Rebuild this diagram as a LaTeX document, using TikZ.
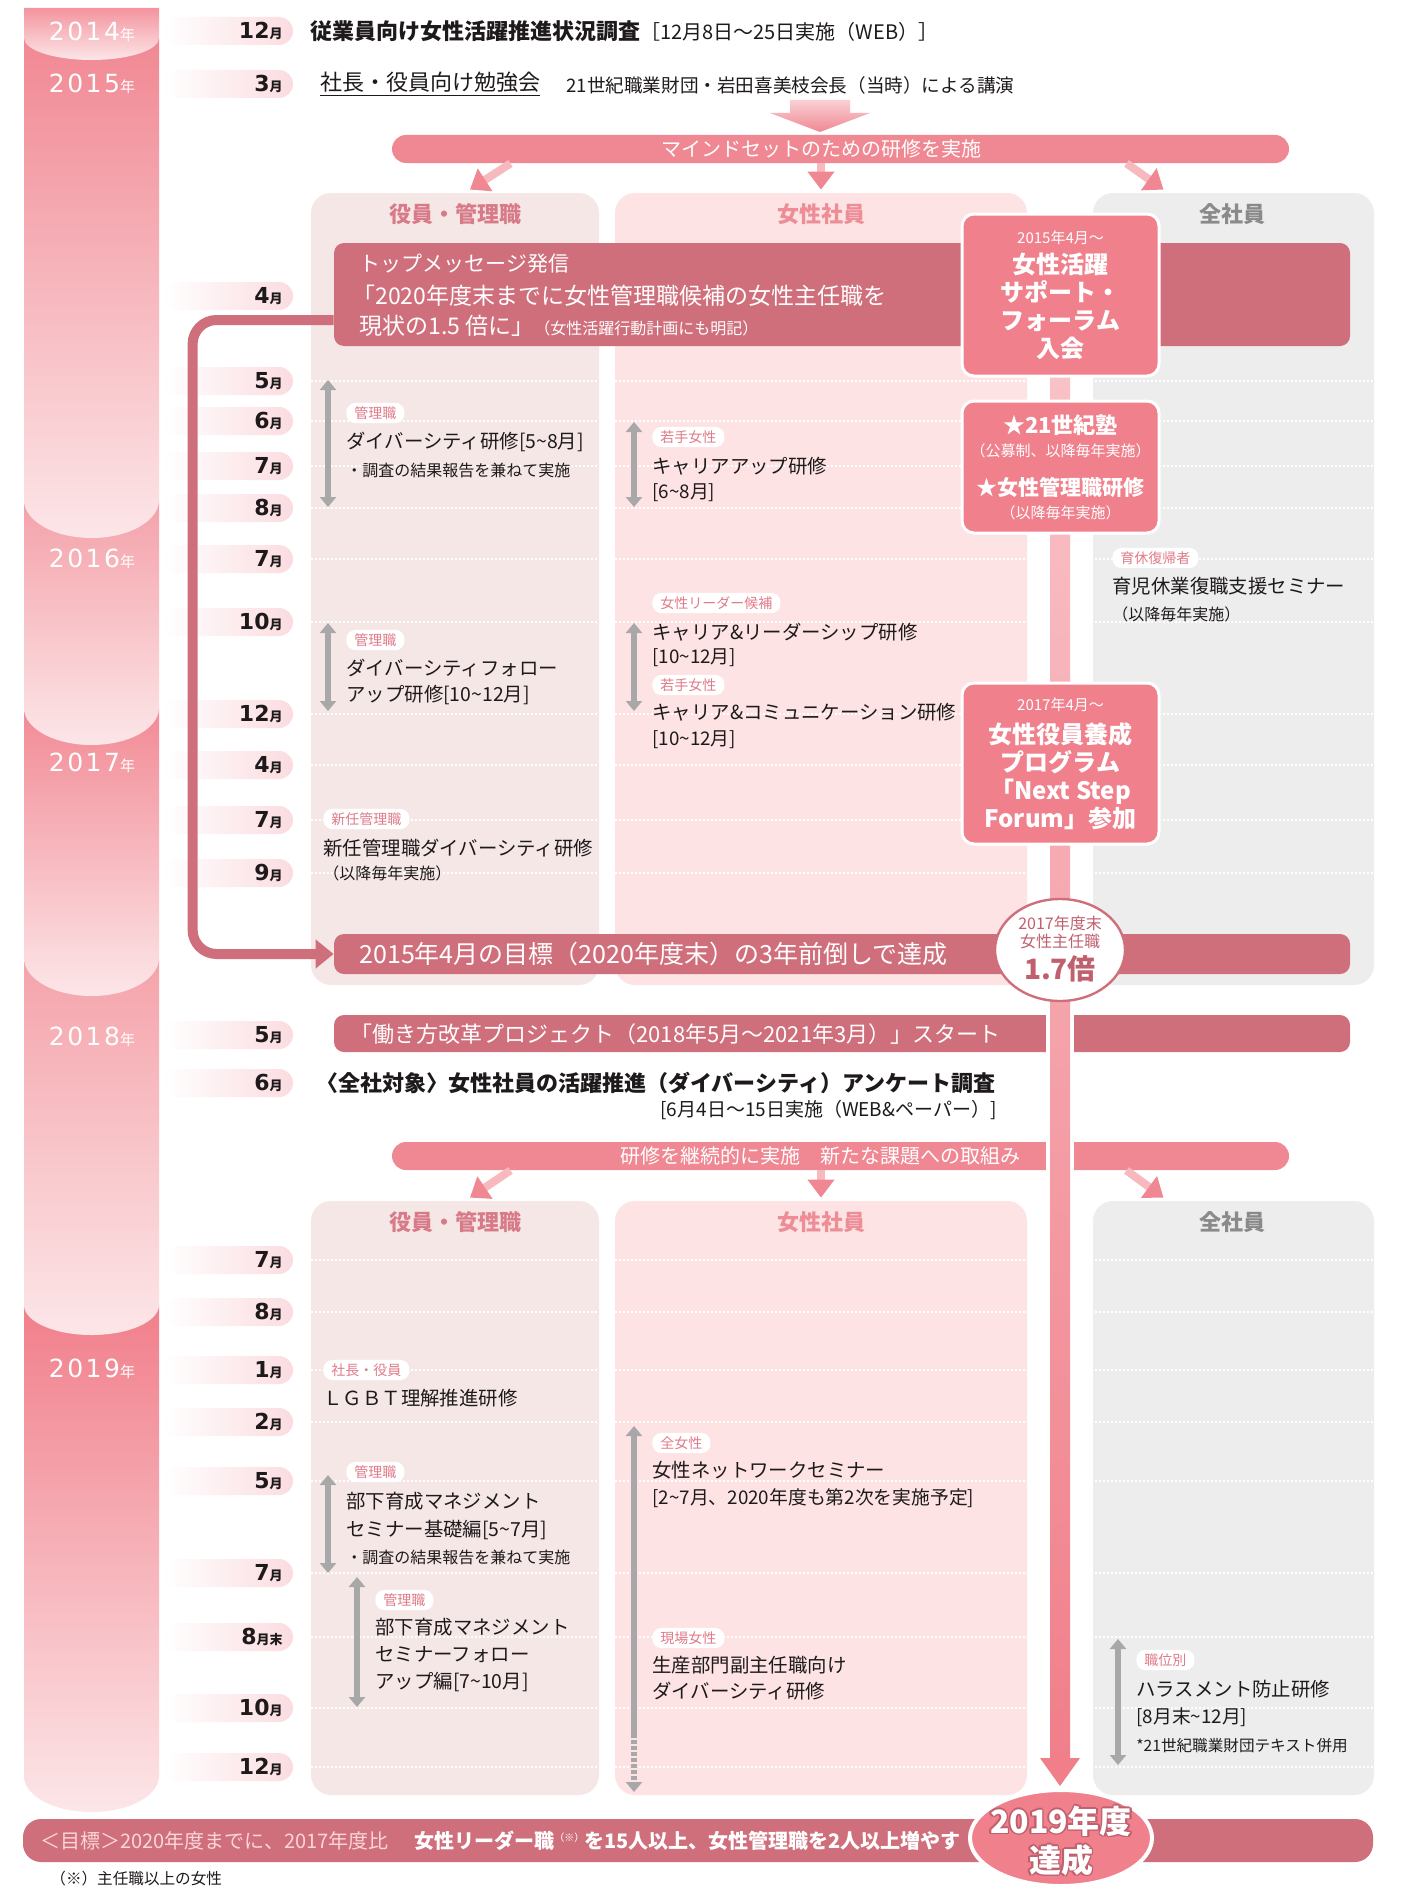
\documentclass[tikz,border=0pt]{standalone}
\usepackage{fontspec}
\setmainfont{Noto Sans CJK JP}
\newfontfamily\dvs{DejaVu Sans}
\newfontfamily\yfont{DejaVu Sans}[LetterSpace=10]
\usetikzlibrary{arrows.meta,calc,shapes.geometric}
\definecolor{ink}{HTML}{1E1A1B}
\definecolor{rose}{HTML}{D06F7C}
\definecolor{rosedark}{HTML}{C0606E}
\definecolor{pinkbox}{HTML}{F0808C}
\definecolor{bannerpink}{HTML}{F08893}
\definecolor{arrlight}{HTML}{FAD0D4}
\definecolor{ylight}{HTML}{FCE6E8}
\definecolor{y14}{HTML}{F3949E}
\definecolor{y15}{HTML}{F18893}
\definecolor{y16}{HTML}{F4A1A9}
\definecolor{y17}{HTML}{F28A95}
\definecolor{y18}{HTML}{F4A3AA}
\definecolor{y19}{HTML}{F17F8B}
\definecolor{pillpink}{HTML}{FBDCE0}
\definecolor{panelA}{HTML}{F6E7E7}
\definecolor{panelB}{HTML}{FDE3E3}
\definecolor{panelC}{HTML}{EDEDED}
\definecolor{hdrA}{HTML}{D77B88}
\definecolor{hdrB}{HTML}{EC8D97}
\definecolor{hdrC}{HTML}{8A8A8A}
\definecolor{grayarr}{HTML}{A8A8A8}
\definecolor{tagtext}{HTML}{E07B89}
\definecolor{barlight}{HTML}{F9C2C7}
\definecolor{barstrong}{HTML}{F07F8A}
\definecolor{shaftpink}{HTML}{F7B8BE}
\definecolor{goaltext}{HTML}{F9D6DA}

\newcommand{\tld}{\char"7E\relax}
\newcommand{\yseg}[4]{%
  \shade[top color=#4, bottom color=ylight] (24,#1) -- (24,#2) .. controls (24,#2+0.552*#3) and (54.2,#2+#3) .. (91.5,#2+#3) .. controls (128.8,#2+#3) and (159,#2+0.552*#3) .. (159,#2) -- (159,#1) -- cycle;}
\newcommand{\ylab}[3]{\node[inner sep=0pt,text=white] (#3) at (92,#1) {{\yfont\fontsize{12.5}{14}\selectfont #2}{\fontsize{7.5}{9}\selectfont 年}};}
\newcommand{\mrow}[4]{%
  \shade[left color=white,right color=pillpink,rounded corners=7pt] (163,#1-14) rectangle (293,#1+14);
  \node[anchor=east,inner sep=0pt,text=ink] (#4) at (283,#1) {{\dvs\bfseries\fontsize{11}{12}\selectfont #2}{\bfseries\fontsize{6.5}{8}\selectfont #3}};}
\newcommand{\dline}[1]{\draw[dotl] (311,#1) -- (1374,#1);}

\begin{document}
\begin{tikzpicture}[x=0.5pt,y=-0.5pt,
  txt/.style={anchor=west,inner sep=0pt,text=ink,font=\fontsize{9.7}{11}\selectfont},
  sub/.style={anchor=west,inner sep=0pt,text=ink,font=\fontsize{9.4}{11}\selectfont},
  note/.style={anchor=west,inner sep=0pt,text=ink,font=\fontsize{8}{9.5}\selectfont},
  tag/.style={anchor=west,fill=white,rounded corners=4.5pt,inner xsep=4pt,inner ysep=1.8pt,text=tagtext,font=\fontsize{7}{8}\selectfont},
  panel/.style={inner sep=0pt,rounded corners=10pt},
  hdr/.style={inner sep=0pt,font=\bfseries\fontsize{11}{13}\selectfont},
  banner/.style={inner sep=0pt,fill=rose,rounded corners=5pt},
  pbanner/.style={inner sep=0pt,fill=bannerpink,rounded corners=7pt},
  fbox/.style={inner sep=0pt,fill=pinkbox,draw=white,line width=1.5pt,rounded corners=6pt,text=white,align=center},
  garr/.style={draw=grayarr,line width=3pt,{Triangle[width=8pt,length=5pt]}-{Triangle[width=8pt,length=5pt]}},
  dotl/.style={draw=white,line width=0.9pt,dash pattern=on 1pt off 1pt},
  minarr/.style={draw=shaftpink,line width=4pt,-{Triangle[width=13pt,length=9pt,color=bannerpink]}},
  conn/.style={draw=rose,line width=5pt,rounded corners=12pt,-{Triangle[width=14pt,length=9pt]}},
  wtxt/.style={anchor=west,inner sep=0pt,text=white},
  big/.style={inner sep=0pt,font=\bfseries\fontsize{16}{18}\selectfont}]
\useasboundingbox (0,0) rectangle (1405,1889);
\fill[white] (0,0) rectangle (1405,1889);

% ---------- year bar ----------
\yseg{1305}{1776}{36}{y19}
\yseg{958}{1305}{30}{y18}
\yseg{708}{958}{38}{y17}
\yseg{500}{708}{37}{y16}
\yseg{38}{500}{38}{y15}
\yseg{8}{38}{22}{y14}
\ylab{32}{2014}{yra}
\ylab{84}{2015}{yrb}
\ylab{559}{2016}{yrc}
\ylab{763}{2017}{yrd}
\ylab{1037}{2018}{yre}
\ylab{1369}{2019}{yrf}

% ---------- months ----------
\mrow{31}{12}{月}{m1}
\mrow{84}{3}{月}{m2}
\mrow{296}{4}{月}{m3}
\mrow{381}{5}{月}{m4}
\mrow{421}{6}{月}{m5}
\mrow{466}{7}{月}{m6}
\mrow{508}{8}{月}{m7}
\mrow{559}{7}{月}{m8}
\mrow{622}{10}{月}{m9}
\mrow{714}{12}{月}{m10}
\mrow{765}{4}{月}{m11}
\mrow{820}{7}{月}{m12}
\mrow{873}{9}{月}{m13}
\mrow{1035}{5}{月}{m14}
\mrow{1083}{6}{月}{m15}
\mrow{1260}{7}{月}{m16}
\mrow{1312}{8}{月}{m17}
\mrow{1370}{1}{月}{m18}
\mrow{1422}{2}{月}{m19}
\mrow{1481}{5}{月}{m20}
\mrow{1573}{7}{月}{m21}
\mrow{1637}{8}{月末}{m22}
\mrow{1708}{10}{月}{m23}
\mrow{1767}{12}{月}{m24}

% ---------- panels ----------
\node[panel,fill=panelA,minimum width=144pt,minimum height=396pt] (pA1) at (455,589) {};
\node[panel,fill=panelB,minimum width=206pt,minimum height=396pt] (pB1) at (821,589) {};
\node[panel,fill=panelC,minimum width=140.5pt,minimum height=396pt] (pC1) at (1233.5,589) {};
\node[panel,fill=panelA,minimum width=144pt,minimum height=297pt] (pA2) at (455,1498) {};
\node[panel,fill=panelB,minimum width=206pt,minimum height=297pt] (pB2) at (821,1498) {};
\node[panel,fill=panelC,minimum width=140.5pt,minimum height=297pt] (pC2) at (1233.5,1498) {};
\node[hdr,text=hdrA] (hA1) at (455,214) {役員・管理職};
\node[hdr,text=hdrB] (hB1) at (821,214) {女性社員};
\node[hdr,text=hdrC] (hC1) at (1232,214) {全社員};
\node[hdr,text=hdrA] (hA2) at (455,1222) {役員・管理職};
\node[hdr,text=hdrB] (hB2) at (821,1222) {女性社員};
\node[hdr,text=hdrC] (hC2) at (1232,1222) {全社員};

\foreach \yy in {381,421,466,508,559,622,714,765,820,873,1260,1312,1370,1422,1481,1573,1637,1708,1767} {\dline{\yy}}

% ---------- top rows ----------
\node[txt] (t1) at (310,31) {{\bfseries\fontsize{11}{13}\selectfont 従業員向け女性活躍推進状況調査}{\fontsize{10}{12}\selectfont ［12月8日～25日実施（WEB）］}};
\node[txt,font=\fontsize{11}{13}\selectfont] (t2) at (320,84) {\underline{社長・役員向け勉強会}};
\node[txt,font=\fontsize{9.3}{11}\selectfont] (t3) at (566,85) {21世紀職業財団・岩田喜美枝会長（当時）による講演};

\shade[top color=arrlight,bottom color=bannerpink] (790,100) -- (850,100) -- (850,113) -- (870,113) -- (820,132) -- (770,113) -- (790,113) -- cycle;

\node[pbanner,minimum width=448.5pt,minimum height=14pt] (mind) at (840.5,149) {};
\node[inner sep=0pt,text=white,font=\fontsize{10}{12}\selectfont] (mindt) at (821,149) {マインドセットのための研修を実施};
\draw[minarr] ([xshift=-165pt]mind.south) -- ([xshift=7.5pt,yshift=1.5pt]pA1.north);
\draw[minarr] (mind.south -| pB1.north) -- ([yshift=1.5pt]pB1.north);
\draw[minarr] ([xshift=143pt]mind.south) -- ([xshift=-35pt,yshift=1.5pt]pC1.north);

% ---------- banners ----------
\node[banner,minimum width=508pt,minimum height=51.5pt] (topmsg) at (842,294.5) {};
\node[wtxt,font=\fontsize{10.5}{12}\selectfont] (tm1) at (359,264) {トップメッセージ発信};
\node[wtxt,font=\fontsize{11.5}{13}\selectfont] (tm2) at (352,296) {「2020年度末までに女性管理職候補の女性主任職を};
\node[wtxt,font=\fontsize{11.5}{13}\selectfont] (tm3) at (359,326) {現状の1.5 倍に」{\fontsize{8}{9}\selectfont（女性活躍行動計画にも明記）}};

\node[banner,minimum width=508pt,minimum height=20pt] (goal15) at (842,954) {};
\node[wtxt,font=\fontsize{12.5}{14}\selectfont] (g15t) at (359,954) {2015年4月の目標（2020年度末）の3年前倒しで達成};

\node[banner,minimum width=508pt,minimum height=18.5pt] (work18) at (842,1033.5) {};
\node[wtxt,font=\fontsize{11}{13}\selectfont] (w18t) at (350,1034) {「働き方改革プロジェクト（2018年5月～2021年3月）」スタート};

\node[txt,font=\bfseries\fontsize{11}{13}\selectfont] (sv1) at (316,1083) {〈全社対象〉女性社員の活躍推進（ダイバーシティ）アンケート調査};
\node[anchor=east,inner sep=0pt,text=ink,font=\fontsize{9.5}{11}\selectfont] (sv2) at (997,1110) {[6月4日～15日実施（WEB\&ペーパー）]};

\node[pbanner,minimum width=448.5pt,minimum height=14pt] (cont) at (840.5,1156) {};
\node[inner sep=0pt,text=white,font=\fontsize{10}{12}\selectfont] (contt) at (820,1156) {研修を継続的に実施　新たな課題への取組み};
\draw[minarr] ([xshift=-165pt]cont.south) -- ([xshift=7.5pt,yshift=1.5pt]pA2.north);
\draw[minarr] (cont.south -| pB2.north) -- ([yshift=1.5pt]pB2.north);
\draw[minarr] ([xshift=143pt]cont.south) -- ([xshift=-35pt,yshift=1.5pt]pC2.north);

% ---------- L connector ----------
\draw[conn] ($(topmsg.west)+(0,25.5)$) -| ($(goal15.west)+(-141,0)$) -- (goal15.west);

% ---------- pink timeline bar ----------
\fill[white] (1046,376) rectangle (1074,1758);
\shade[top color=barlight,bottom color=barstrong] (1050,376) rectangle (1070,1760);
\fill[barstrong] (1040,1758) -- (1080,1758) -- (1060,1786) -- cycle;

% ---------- forum boxes ----------
\node[fbox,minimum width=98.5pt,minimum height=81pt,font=\bfseries\fontsize{12}{14}\selectfont] (forum1) at (1060.5,295) {{\mdseries\fontsize{7.5}{9}\selectfont 2015年4月～}\\[1pt]女性活躍\\サポート・\\フォーラム\\入会};
\node[fbox,minimum width=98.5pt,minimum height=66pt,font=\bfseries\fontsize{10.5}{11.5}\selectfont] (forum2) at (1060.5,467) {{\fontsize{11}{12}\selectfont ★21世紀塾}\\{\mdseries\fontsize{7.5}{9}\selectfont（公募制、以降毎年実施）}\\[8pt]★女性管理職研修\\{\mdseries\fontsize{7.5}{9}\selectfont（以降毎年実施）}};
\node[fbox,minimum width=98.5pt,minimum height=80.5pt,font=\bfseries\fontsize{12}{14}\selectfont] (forum3) at (1060.5,763.5) {{\mdseries\fontsize{7.5}{9}\selectfont 2017年4月～}\\[2.5pt]女性役員養成\\プログラム\\「Next Step\\Forum」参加};

\node[ellipse,fill=white,draw=rose,line width=1.2pt,minimum width=65pt,minimum height=51pt,inner sep=0pt] (ell17) at (1060,950) {};
\node[inner sep=0pt,text=rosedark,font=\fontsize{8}{9}\selectfont] (e17a) at (1060,923) {2017年度末};
\node[inner sep=0pt,text=rosedark,font=\fontsize{8}{9}\selectfont] (e17b) at (1060,941) {女性主任職};
\node[inner sep=0pt,text=rosedark,font=\bfseries\fontsize{14}{16}\selectfont] (e17c) at (1060,969) {1.7倍};

% ---------- column A, period 1 ----------
\draw[garr] (328,380) -- (328,507);
\node[tag] (ta1) at (346,413) {管理職};
\node[txt] (xa1) at (346,442) {ダイバーシティ研修[5\tld 8月]};
\node[note] (xa2) at (346,470) {・調査の結果報告を兼ねて実施};
\draw[garr] (328,623) -- (328,711);
\node[tag] (ta2) at (346,640) {管理職};
\node[txt] (xa3) at (346,668) {ダイバーシティフォロー};
\node[txt] (xa4) at (346,695) {アップ研修[10\tld 12月]};
\node[tag] (ta3) at (323,819) {新任管理職};
\node[txt] (xa5) at (323,848) {新任管理職ダイバーシティ研修};
\node[note] (xa6) at (323,873) {（以降毎年実施）};

% ---------- column B, period 1 ----------
\draw[garr] (634,422) -- (634,507);
\node[tag] (tb1) at (652,437) {若手女性};
\node[txt] (xb1) at (652,466) {キャリアアップ研修};
\node[sub] (xb2) at (652,493) {[6\tld 8月]};
\draw[garr] (634,623) -- (634,711);
\node[tag] (tb2) at (652,603) {女性リーダー候補};
\node[txt] (xb3) at (652,632) {キャリア\&リーダーシップ研修};
\node[sub] (xb4) at (652,658) {[10\tld 12月]};
\node[tag] (tb3) at (652,685) {若手女性};
\node[txt] (xb5) at (652,712) {キャリア\&コミュニケーション研修};
\node[sub] (xb6) at (652,740) {[10\tld 12月]};

% ---------- column C, period 1 ----------
\node[tag] (tc1) at (1112,558) {育休復帰者};
\node[txt] (xc1) at (1112,586) {育児休業復職支援セミナー};
\node[note] (xc2) at (1112,614) {（以降毎年実施）};

% ---------- column A, period 2 ----------
\node[tag] (ta4) at (323,1370) {社長・役員};
\node[txt] (xa7) at (323,1398) {ＬＧＢＴ理解推進研修};
\draw[garr] (328,1475) -- (328,1573);
\node[tag] (ta5) at (346,1472) {管理職};
\node[txt] (xa8) at (346,1501) {部下育成マネジメント};
\node[txt] (xa9) at (346,1530) {セミナー基礎編[5\tld 7月]};
\node[note] (xa10) at (346,1557) {・調査の結果報告を兼ねて実施};
\draw[garr] (357,1577) -- (357,1707);
\node[tag] (ta6) at (375,1600) {管理職};
\node[txt] (xa11) at (375,1627) {部下育成マネジメント};
\node[txt] (xa12) at (375,1655) {セミナーフォロー};
\node[txt] (xa13) at (375,1682) {アップ編[7\tld 10月]};

% ---------- column B, period 2 ----------
\draw[draw=grayarr,line width=3pt,-{Triangle[width=8pt,length=5pt]}] (634,1734) -- (634,1426);
\draw[draw=grayarr,line width=3pt,dash pattern=on 2pt off 1pt,-{Triangle[width=8pt,length=5pt]}] (634,1734) -- (634,1792);
\node[tag] (tb5) at (652,1443) {全女性};
\node[txt] (xb8) at (652,1470) {女性ネットワークセミナー};
\node[sub] (xb9) at (652,1498) {[2\tld 7月、2020年度も第2次を実施予定]};
\node[tag] (tb6) at (652,1638) {現場女性};
\node[txt] (xb10) at (652,1665) {生産部門副主任職向け};
\node[txt] (xb11) at (652,1691) {ダイバーシティ研修};

% ---------- column C, period 2 ----------
\draw[garr] (1118,1639) -- (1118,1765);
\node[tag] (tc2) at (1136,1660) {職位別};
\node[txt] (xc3) at (1136,1689) {ハラスメント防止研修};
\node[sub] (xc4) at (1136,1717) {[8月末\tld 12月]};
\node[note,font=\fontsize{7.8}{9}\selectfont] (xc5) at (1136,1746) {*21世紀職業財団テキスト併用};

% ---------- bottom goal ----------
\node[banner,minimum width=675pt,minimum height=21.5pt,rounded corners=9pt] (goalB) at (698,1840.5) {};
\node[anchor=west,inner sep=0pt,text=goaltext,font=\fontsize{10}{12}\selectfont] (gb1) at (40,1841) {＜目標＞2020年度までに、2017年度比};
\node[anchor=west,inner sep=0pt,text=white,font=\bfseries\fontsize{10}{12}\selectfont] (gb2) at (414,1841) {女性リーダー職{\mdseries\fontsize{5}{6}\selectfont\raisebox{3.5pt}{（※）}}を15人以上、女性管理職を2人以上増やす};
\node[ellipse,fill=pinkbox,draw=white,line width=2pt,minimum width=91pt,minimum height=48pt,inner sep=0pt] (ell19) at (1061,1838) {};
\foreach \dx/\dy [count=\k] in {-1.6/0,1.6/0,0/-1.6,0/1.6,-1.1/-1.1,1.1/1.1,-1.1/1.1,1.1/-1.1} {
  \node[big,text=rosedark] (s19a\k) at (1061+\dx,1821+\dy) {2019年度};
  \node[big,text=rosedark] (s19b\k) at (1061+\dx,1860+\dy) {達成};
}
\node[big,text=white] (e19a) at (1061,1821) {2019年度};
\node[big,text=white] (e19b) at (1061,1860) {達成};
\node[anchor=west,inner sep=0pt,text=ink,font=\fontsize{7.8}{9}\selectfont] (fn) at (50,1879) {（※）主任職以上の女性};
\end{tikzpicture}
\end{document}
